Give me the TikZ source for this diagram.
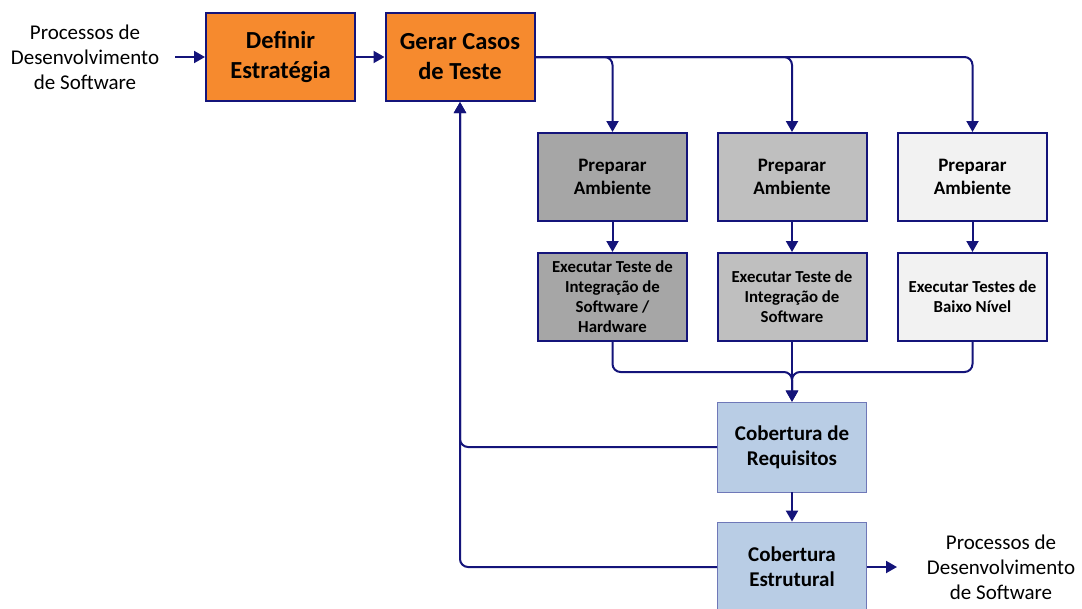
\documentclass[tikz,border=0pt]{standalone}
\usepackage{fontspec}
\setmainfont{Carlito}
\usetikzlibrary{arrows.meta,calc}
\definecolor{navyline}{HTML}{14147A}
\definecolor{orangebox}{HTML}{F68A2E}
\definecolor{graydark}{HTML}{A6A6A6}
\definecolor{graymid}{HTML}{BFBFBF}
\definecolor{graylight}{HTML}{F2F2F2}
\definecolor{bluebox}{HTML}{B9CDE5}
\definecolor{blueedge}{HTML}{6F78B8}
\begin{document}
\begin{tikzpicture}[x=1pt,y=-1pt,
  box/.style={draw=navyline,line width=2pt,minimum width=149pt,minimum height=88pt,
    inner sep=2pt,align=center,font=\bfseries},
  bigbox/.style={box,fill=orangebox,font=\fontsize{24.5}{30}\selectfont\bfseries},
  prepbox/.style={box,font=\fontsize{19}{23}\selectfont\bfseries},
  execbox/.style={box,font=\fontsize{16.8}{20}\selectfont\bfseries},
  covbox/.style={box,draw=blueedge,line width=0.8pt,fill=bluebox,minimum width=149pt,minimum height=90pt,
    font=\fontsize{21}{25}\selectfont\bfseries},
  plain/.style={align=center,font=\fontsize{21}{25}\selectfont},
  flow/.style={draw=navyline,line width=2pt,-{Triangle[length=11pt,width=12pt]}}]
\useasboundingbox (0,0) rectangle (1082,608);

% input / output labels
\node[plain] (srcin) at (85,57) {Processos de\\Desenvolvimento\\de Software};
\node[plain] (srcout) at (1001,567) {Processos de\\Desenvolvimento\\de Software};

% main chain
\node[bigbox] (def) at (280.5,57) {Definir\\Estratégia};
\node[bigbox] (ger) at (460,57) {Gerar Casos\\de Teste};

% three test branches
\node[prepbox,fill=graydark] (p1) at (612.5,177) {Preparar\\Ambiente};
\node[prepbox,fill=graymid] (p2) at (792,177) {Preparar\\Ambiente};
\node[prepbox,fill=graylight] (p3) at (972.5,177) {Preparar\\Ambiente};
\node[execbox,fill=graydark] (e1) at (612.5,297) {Executar Teste de\\Integração de\\Software /\\Hardware};
\node[execbox,fill=graymid] (e2) at (792,297) {Executar Teste de\\Integração de\\Software};
\node[execbox,fill=graylight] (e3) at (972.5,297) {Executar Testes de\\Baixo Nível};

% coverage analysis
\node[covbox] (req) at (792,447) {Cobertura de\\Requisitos};
\node[covbox] (est) at (792,567) {Cobertura\\Estrutural};

% connectors
\draw[flow] (175,57) -- (def.west);
\draw[flow] (def.east) -- (ger.west);
\draw[flow,rounded corners=8pt] (ger.east) -| (p1.north);
\draw[flow,rounded corners=8pt] (ger.east) -| (p2.north);
\draw[flow,rounded corners=8pt] (ger.east) -| (p3.north);
\draw[flow] (p1.south) -- (e1.north);
\draw[flow] (p2.south) -- (e2.north);
\draw[flow] (p3.south) -- (e3.north);

\coordinate (join) at (req.north |- 0,372);
\draw[flow,rounded corners=8pt] (e1.south) |- (join) -- (req.north);
\draw[flow,rounded corners=8pt] (e3.south) |- (join) -- (req.north);
\draw[flow] (e2.south) -- (req.north);

\draw[flow,rounded corners=8pt] (req.west) -| (ger.south);
\draw[flow,rounded corners=8pt] (est.west) -| (ger.south);
\draw[flow] (req.south) -- (est.north);
\draw[flow] (est.east) -- (897,567);
\end{tikzpicture}
\end{document}
